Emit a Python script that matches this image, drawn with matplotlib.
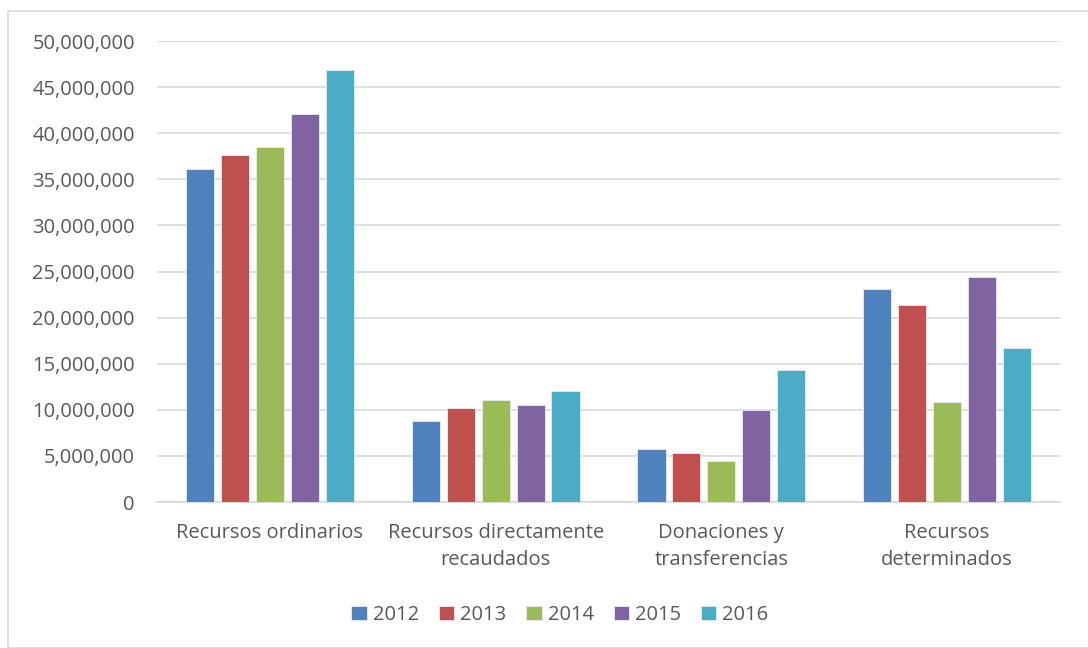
import matplotlib
matplotlib.use("Agg")
import matplotlib.pyplot as plt
import numpy as np
from matplotlib.ticker import FuncFormatter
from matplotlib.patches import Rectangle

plt.rcParams['font.family'] = ['Open Sans', 'DejaVu Sans']

categories = ["Recursos ordinarios", "Recursos directamente\nrecaudados",
              "Donaciones y\ntransferencias", "Recursos\ndeterminados"]
years = ["2012", "2013", "2014", "2015", "2016"]
v2012 = [36100000, 8800000, 5800000, 23100000]
v2013 = [37600000, 10150000, 5300000, 21400000]
v2014 = [38500000, 11100000, 4400000, 10800000]
v2015 = [42050000, 10500000, 10000000, 24400000]
v2016 = [46850000, 12050000, 14350000, 16700000]
series = [v2012, v2013, v2014, v2015, v2016]
colors = ["#4f81bd", "#c0504d", "#9bbb59", "#8064a2", "#4bacc6"]

fig = plt.figure(figsize=(10.88, 6.48), dpi=100)
ax = fig.add_axes([157/1088, 1 - 502/648, (1060-157)/1088, 461/648])

x = np.arange(len(categories))
step = 0.155
width = 0.125
for i, (vals, c, y) in enumerate(zip(series, colors, years)):
    ax.bar(x + (i - 2) * step, vals, width, color=c, label=y,
           edgecolor="#e8eef7", linewidth=0.6, zorder=3)

fs = 14.5
ax.set_xlim(-0.5, len(categories) - 0.5)
ax.set_ylim(0, 50000000)
ax.set_yticks(np.arange(0, 50000001, 5000000))
ax.yaxis.set_major_formatter(FuncFormatter(lambda v, p: f"{int(v):,}"))
ax.set_xticks(x)
ax.set_xticklabels(categories, fontsize=fs, color="#595959", linespacing=1.5)
ax.tick_params(axis='y', labelsize=fs, labelcolor="#595959", length=0, pad=16)
ax.tick_params(axis='x', length=0, pad=15)
ax.grid(axis='y', color="#d9d9d9", linewidth=1.2, zorder=0)
for s in ["top", "right", "left"]:
    ax.spines[s].set_visible(False)
ax.spines["bottom"].set_color("#d9d9d9")
ax.spines["bottom"].set_linewidth(1.2)

leg = fig.legend(loc="center", bbox_to_anchor=(560/1088, 1 - 615/648), ncol=5,
                 frameon=False, fontsize=fs, handlelength=0.75, handleheight=0.75,
                 handletextpad=0.3, columnspacing=1.0)
for t in leg.get_texts():
    t.set_color("#595959")

fig.patches.append(Rectangle((8/1088, 0), 1.2, 1 - 11/648, transform=fig.transFigure,
                             fill=False, edgecolor="#d9d9d9", linewidth=1.2))

fig.savefig("out.png", dpi=100)
